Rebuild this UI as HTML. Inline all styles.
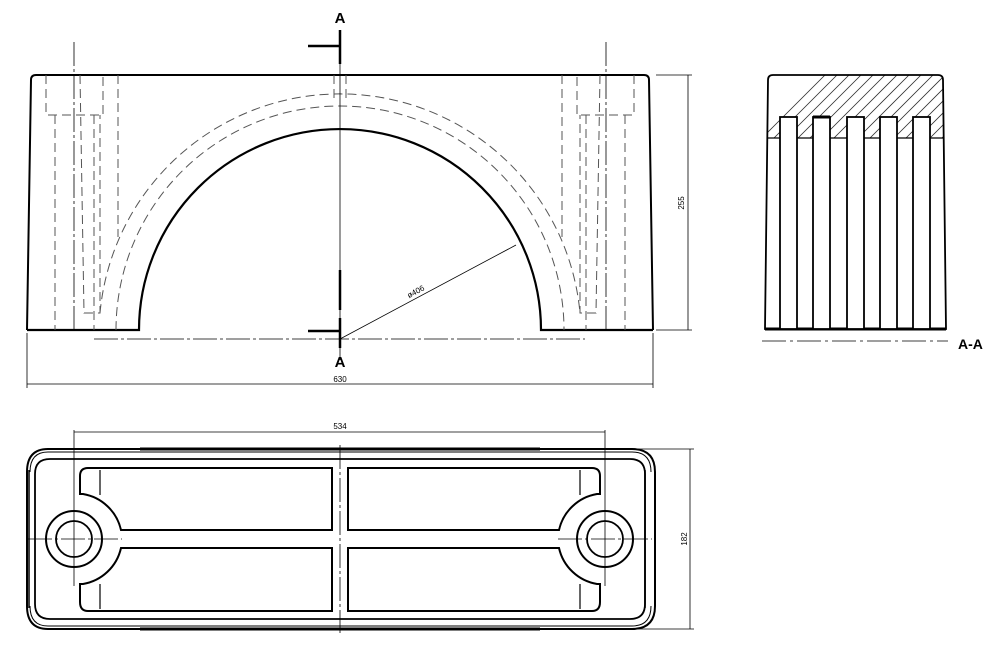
<!DOCTYPE html>
<html><head><meta charset="utf-8"><style>
html,body{margin:0;padding:0;background:#fff;width:1000px;height:659px;overflow:hidden}
svg{display:block}
text{font-family:"Liberation Sans",sans-serif}
</style></head><body>
<svg width="1000" height="659" viewBox="0 0 1000 659" xmlns="http://www.w3.org/2000/svg">
<defs>
<clipPath id="hc"><path d="M768,138 L768,80 Q768,75 773,75 L938,75 Q943,75 943,80 L943,138 Z"/></clipPath>
</defs>
<g fill="none" stroke="#000">
<!-- FRONT VIEW -->
<path d="M27,330 L31,80 Q31,75 36,75 L644,75 Q649,75 649,80 L653,330" stroke-width="2"/>
<path d="M27,330 L139,330 A201,201 0 0 1 541,330 L653,330" stroke-width="2.2"/>
<!-- hidden arcs -->
<g stroke="#555" stroke-width="1" stroke-dasharray="9,5">
<path d="M100,313 A241,241 0 0 1 580,313"/>
<path d="M116,330 A224,224 0 0 1 564,330"/>
<path d="M334,75 L334,98 M346,75 L346,98"/>
<!-- left bolt -->
<path d="M46,75 L46,115 L103,115 L103,75"/>
<path d="M55,115 L55,330 M94,115 L94,330"/>
<path d="M80,75 L84,313 L100,313 L100,115"/>
<path d="M118,75 L118,237"/>
<!-- right bolt -->
<path d="M634,75 L634,115 L577,115 L577,75"/>
<path d="M625,115 L625,330 M586,115 L586,330"/>
<path d="M600,75 L596,313 L580,313 L580,115"/>
<path d="M562,75 L562,237"/>
</g>
<g stroke="#000" stroke-width="0.8" stroke-dasharray="24,3,3,3">
<path d="M74,42 L74,333 M606,42 L606,333"/>
<path d="M94,339 L585,339"/>
</g>
<!-- section line A -->
<path d="M340,30 L340,360" stroke-width="0.8"/>
<path d="M340,30 L340,64 M340,270 L340,310 M340,318 L340,348" stroke-width="2.5"/>
<path d="M308,46 L340,46 M308,331 L340,331" stroke-width="2.5"/>
<!-- phi line -->
<path d="M340,339 L516,245" stroke-width="0.8"/>
<!-- dims -->
<g stroke-width="0.8">
<path d="M656,75 L692,75 M656,330 L692,330 M688,75 L688,330"/>
<path d="M27,333 L27,388 M653,333 L653,388 M27,384 L653,384"/>
</g>
<!-- SIDE VIEW -->
<g clip-path="url(#hc)" stroke-width="0.8" stroke="#333">
<path d="M700,200 L900,0 M712,200 L912,0 M724,200 L924,0 M736,200 L936,0 M748,200 L948,0 M760,200 L960,0 M772,200 L972,0 M784,200 L984,0 M796,200 L996,0 M808,200 L1008,0 M820,200 L1020,0 M832,200 L1032,0 M844,200 L1044,0 M856,200 L1056,0 M868,200 L1068,0 M880,200 L1080,0 M892,200 L1092,0 M904,200 L1104,0 M916,200 L1116,0 M928,200 L1128,0 M940,200 L1140,0"/>
</g>
<path d="M765,329 L768,80 Q768,75 773,75 L938,75 Q943,75 943,80 L946,329 Z" stroke-width="1.8"/>
<path d="M765,329 L946,329" stroke-width="3"/>
<path d="M768,138 L943,138" stroke-width="1.2"/>
<g fill="#fff" stroke-width="1.8">
<rect x="780" y="117" width="17" height="212"/>
<rect x="813" y="117" width="17" height="212"/>
<rect x="847" y="117" width="17" height="212"/>
<rect x="880" y="117" width="17" height="212"/>
<rect x="913" y="117" width="17" height="212"/>
</g>
<path d="M813,117 L830,117" stroke-width="3"/>
<path d="M762,341 L948,341" stroke-width="0.8" stroke-dasharray="24,4,3,4"/>
<!-- TOP VIEW -->
<path d="M48,449 L632,449 Q655,449 655,472 L655,606 Q655,629 632,629 L48,629 Q27,629 27,606 L27,472 Q27,449 48,449 Z" stroke-width="2"/>
<path d="M48,452 L632,452 Q651,452 651,472 M651,606 Q651,626 632,626 L48,626 Q30,626 30,606 M30,472 Q30,452 48,452" stroke-width="1"/>
<path d="M50,459 L630,459 Q645,459 645,474 L645,604 Q645,619 630,619 L50,619 Q35,619 35,604 L35,474 Q35,459 50,459 Z" stroke-width="1.8"/>
<path d="M29,470 L29,608 M645,470 L645,608" stroke-width="1.5"/>
<path d="M140,449 L540,449 M140,629 L540,629" stroke-width="3"/>
<!-- rings -->
<circle cx="74" cy="539" r="28" stroke-width="2"/>
<circle cx="74" cy="539" r="18" stroke-width="1.8"/>
<circle cx="605" cy="539" r="28" stroke-width="2"/>
<circle cx="605" cy="539" r="18" stroke-width="1.8"/>
<!-- pockets left -->
<g stroke-width="2">
<path d="M88,468 L332,468 L332,530 L121,530 A47,47 0 0 0 83,494 L80,494 L80,476 Q80,468 88,468 Z"/>
<path d="M88,611 L332,611 L332,548 L121,548 A47,47 0 0 1 83,584 L80,584 L80,602 Q80,611 88,611 Z"/>
<path d="M592,468 L348,468 L348,530 L559,530 A47,47 0 0 1 597,494 L600,494 L600,476 Q600,468 592,468 Z"/>
<path d="M592,611 L348,611 L348,548 L559,548 A47,47 0 0 0 597,584 L600,584 L600,602 Q600,611 592,611 Z"/>
</g>
<path d="M100,470 L100,495 M100,584 L100,609 M580,470 L580,495 M580,584 L580,609" stroke-width="1.2"/>
<g stroke-width="0.8" stroke-dasharray="24,3,3,3">
<path d="M340,445 L340,633"/>
<path d="M28,539 L122,539 M558,539 L652,539"/>
</g>
<path d="M74,430 L74,586 M605,430 L605,586" stroke-width="0.8"/>
<path d="M74,432 L605,432" stroke-width="0.8"/>
<path d="M632,449 L694,449 M632,629 L694,629 M690,449 L690,629" stroke-width="0.8"/>
</g>
<!-- labels -->
<g fill="#000">
<text x="340" y="23" font-size="15" font-weight="bold" text-anchor="middle">A</text>
<text x="340" y="367" font-size="15" font-weight="bold" text-anchor="middle">A</text>
<text x="958" y="349" font-size="14" font-weight="bold">A-A</text>
<text x="340" y="382" font-size="8" text-anchor="middle">630</text>
<text x="340" y="429" font-size="8" text-anchor="middle">534</text>
<text transform="translate(684,203) rotate(-90)" font-size="8" text-anchor="middle">255</text>
<text transform="translate(687,539) rotate(-90)" font-size="8" text-anchor="middle">182</text>
<text transform="translate(417,294) rotate(-28)" font-size="8" text-anchor="middle">ø406</text>
</g>
</svg>
</body></html>
